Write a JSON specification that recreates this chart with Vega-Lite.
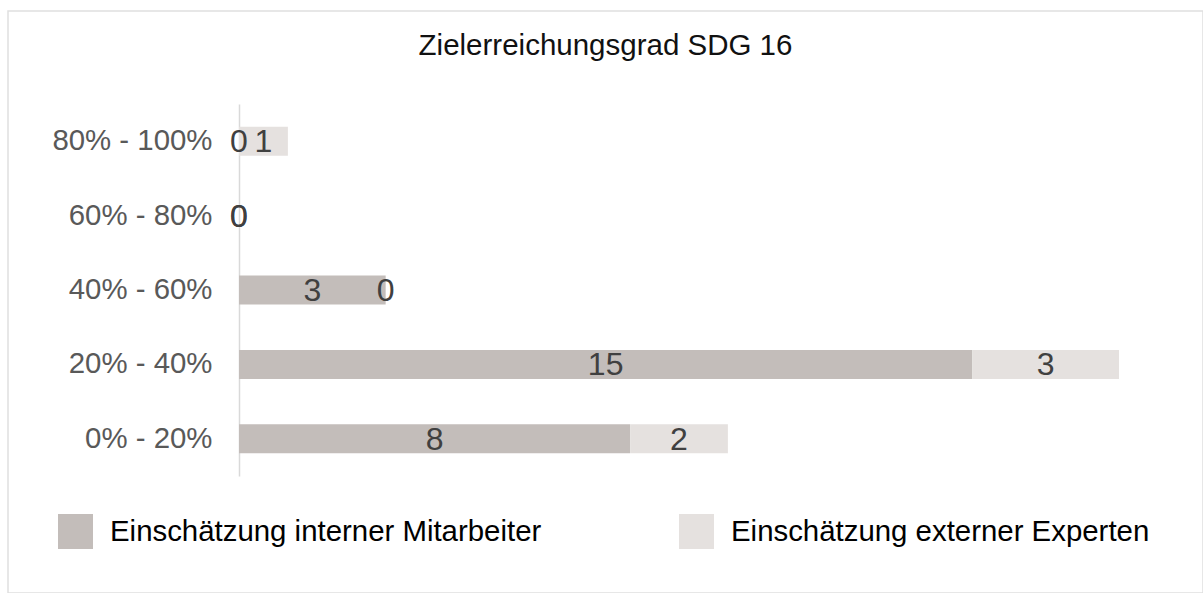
{
  "$schema": "https://vega.github.io/schema/vega-lite/v6.json",
  "width": 1195,
  "height": 582,
  "autosize": {"type": "none"},
  "padding": {"left": 8, "top": 11, "right": 0, "bottom": 0},
  "background": "white",
  "title": {
    "text": "Zielerreichungsgrad SDG 16",
    "font": "Liberation Sans",
    "fontSize": 29.5,
    "fontWeight": "normal",
    "color": "#111111",
    "anchor": "middle",
    "orient": "top",
    "frame": "group",
    "baseline": "alphabetic",
    "offset": -73
  },
  "config": {
    "view": {"stroke": "#e0e0e0", "strokeWidth": 1.5}
  },
  "data": {
    "values": [
      {"cat": "80% - 100%", "series": "Einschätzung interner Mitarbeiter", "ord": 1, "value": 0},
      {"cat": "80% - 100%", "series": "Einschätzung externer Experten", "ord": 2, "value": 1},
      {"cat": "60% - 80%", "series": "Einschätzung interner Mitarbeiter", "ord": 1, "value": 0},
      {"cat": "60% - 80%", "series": "Einschätzung externer Experten", "ord": 2, "value": 0},
      {"cat": "40% - 60%", "series": "Einschätzung interner Mitarbeiter", "ord": 1, "value": 3},
      {"cat": "40% - 60%", "series": "Einschätzung externer Experten", "ord": 2, "value": 0},
      {"cat": "20% - 40%", "series": "Einschätzung interner Mitarbeiter", "ord": 1, "value": 15},
      {"cat": "20% - 40%", "series": "Einschätzung externer Experten", "ord": 2, "value": 3},
      {"cat": "0% - 20%", "series": "Einschätzung interner Mitarbeiter", "ord": 1, "value": 8},
      {"cat": "0% - 20%", "series": "Einschätzung externer Experten", "ord": 2, "value": 2}
    ]
  },
  "transform": [
    {"stack": "value", "groupby": ["cat"], "sort": [{"field": "ord", "order": "ascending"}], "as": ["v0", "v1"]},
    {"calculate": "(datum.v0 + datum.v1) / 2", "as": "mid"}
  ],
  "encoding": {
    "y": {
      "field": "cat",
      "type": "nominal",
      "sort": ["80% - 100%", "60% - 80%", "40% - 60%", "20% - 40%", "0% - 20%"],
      "scale": {"range": [93, 465], "paddingInner": 0.61, "paddingOuter": 0.305},
      "axis": {
        "title": null,
        "offset": -231,
        "ticks": false,
        "grid": false,
        "domainColor": "#d9d9d9",
        "domainWidth": 1.5,
        "labelFont": "Liberation Sans",
        "labelFontSize": 29.4,
        "labelColor": "#595959",
        "labelPadding": 27,
        "labelLimit": 300
      }
    }
  },
  "layer": [
    {
      "mark": {"type": "bar"},
      "encoding": {
        "x": {"field": "v0", "type": "quantitative", "scale": {"domain": [0, 18], "range": [231, 1111], "nice": false, "zero": true}, "axis": null},
        "x2": {"field": "v1"},
        "color": {
          "field": "series",
          "type": "nominal",
          "sort": ["Einschätzung interner Mitarbeiter", "Einschätzung externer Experten"],
          "scale": {"domain": ["Einschätzung interner Mitarbeiter", "Einschätzung externer Experten"], "range": ["#c3bdba", "#e5e1df"]},
          "legend": {
            "title": null,
            "orient": "none",
            "legendX": 50,
            "legendY": 503,
            "direction": "horizontal",
            "columns": 2,
            "columnPadding": 137,
            "symbolType": "square",
            "symbolSize": 1225,
            "symbolStrokeWidth": 0,
            "labelFont": "Liberation Sans",
            "labelFontSize": 29.4,
            "labelColor": "#000000",
            "labelOffset": 17,
            "labelLimit": 700
          }
        }
      }
    },
    {
      "mark": {"type": "text", "font": "Liberation Sans", "fontSize": 32, "color": "#404040", "align": "center", "baseline": "middle", "dy": 1},
      "encoding": {
        "x": {"field": "mid", "type": "quantitative"},
        "text": {"field": "value", "type": "quantitative"}
      }
    }
  ]
}
